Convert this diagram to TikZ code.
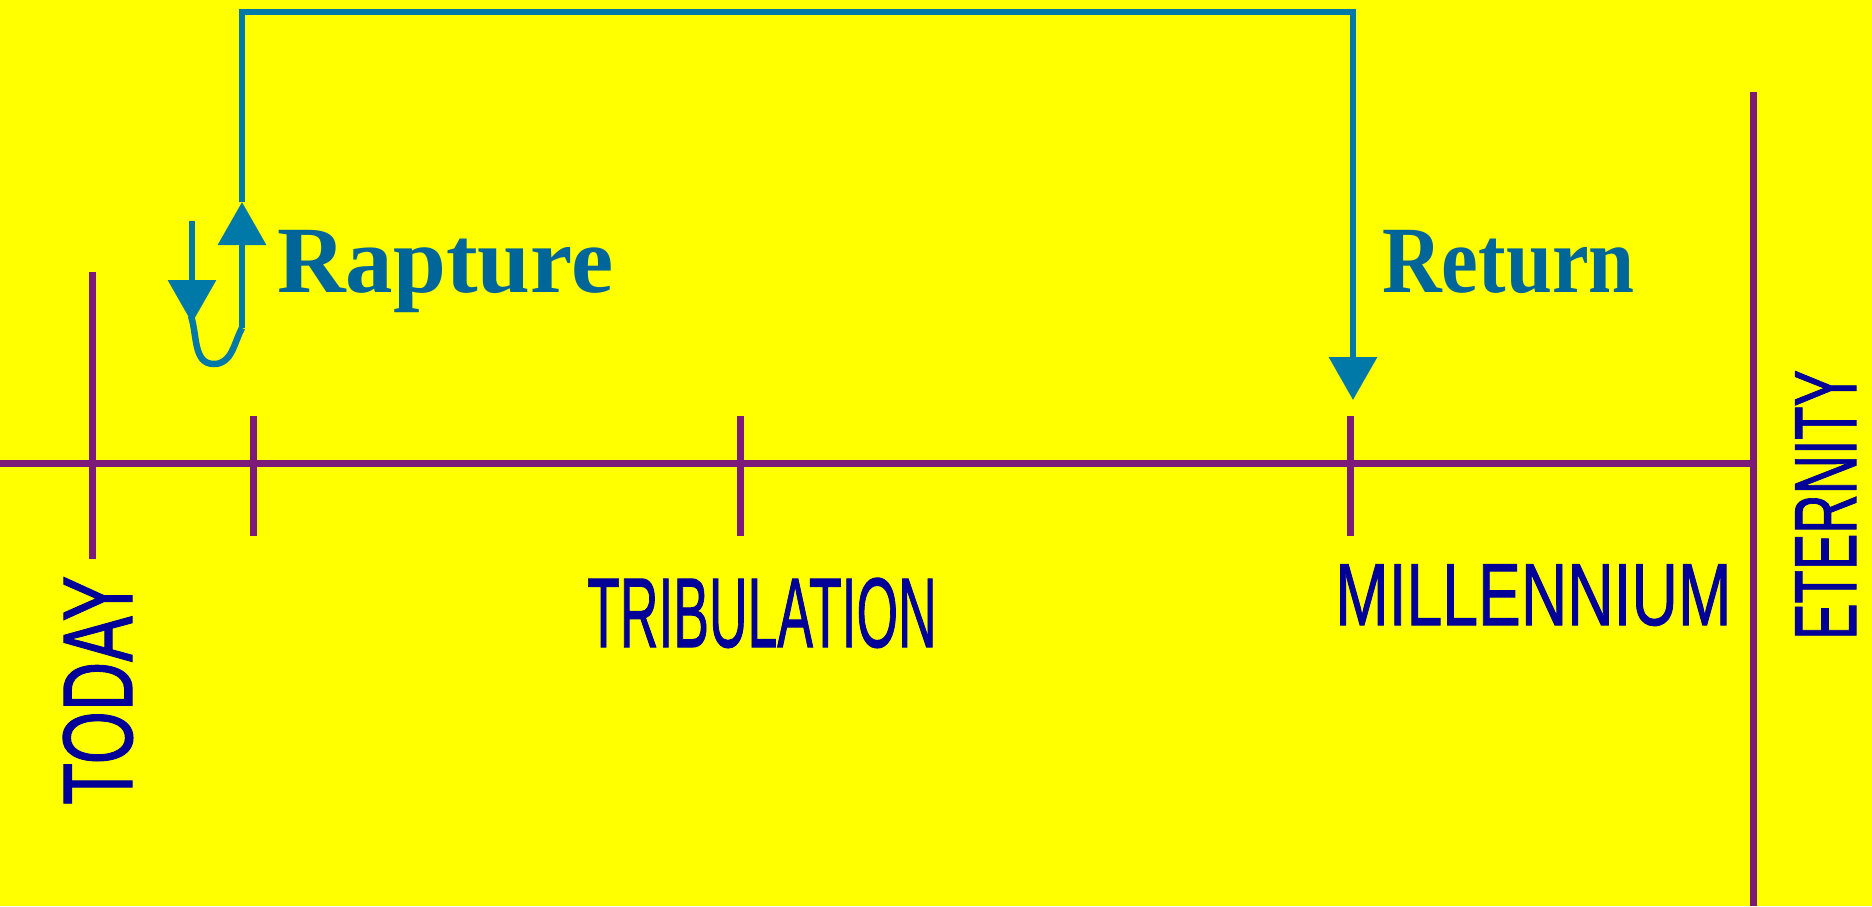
\documentclass[tikz,border=0pt]{standalone}
\usepackage{fontspec, graphicx}
\setmainfont{Liberation Serif}
\setsansfont{Liberation Sans}[FakeBold=1.2]
\usetikzlibrary{arrows.meta}
\definecolor{bgyellow}{HTML}{FFFF00}
\definecolor{timeline}{HTML}{7B1A78}
\definecolor{jumpblue}{HTML}{0079A9}
\definecolor{eventblue}{HTML}{006699}
\definecolor{eranavy}{HTML}{000099}

\begin{document}
\begin{tikzpicture}[x=1pt, y=-1pt,
  axis/.style={line width=7pt, timeline},
  jump/.style={line width=6.5pt, jumpblue},
  jumptip/.style={-{Triangle[length=43pt, width=47pt]}},
  event/.style={font=\fontsize{95}{95}\selectfont\bfseries, text=eventblue, inner sep=0pt, anchor=base west},
  era/.style={text=eranavy, inner sep=0pt, anchor=base west}]
% Draw background
\fill[bgyellow] (0,0) rectangle (1872,906);
\useasboundingbox (0,0) rectangle (1872,906);
% Draw time line
\coordinate (start) at (0,463.5);
\coordinate (end) at (1753,463.5);
\draw[axis] (start) -- (end);
\draw[axis] (92,272) -- (92,559);
\draw[axis] (1753,92) -- (1753,906);
% Draw tick marks
\foreach \x in {253,740,1350}
    \draw[axis] (\x,416) -- (\x,536);
% Draw rapture and return
\coordinate (leave) at (192,221);
\coordinate (dip) at (192,323);
\coordinate (rise) at (242,328);
\coordinate (up tip) at (242,202);
\coordinate (corner left) at (242,12);
\coordinate (corner right) at (1353,12);
\coordinate (down tip) at (1353,400);
\draw[jump, jumptip] (leave) -- (dip);
\draw[jump] (191,316) to[out=-72, in=180] (214,364) to[out=0, in=-118] (rise);
\draw[jump, jumptip] (rise) -- (up tip);
\draw[jump, jumptip] (up tip) -- (corner left) -- (corner right) -- (down tip);
% Draw labels
\node[event] (rapture) at (277,292) {Rapture};
\node[event] (return) at (1382,292) {\scalebox{0.87}[1]{Return}};
\node[era, font=\sffamily\fontsize{99}{99}\selectfont] (tribulation) at (587,647) {\scalebox{0.54}[1]{TRIBULATION}};
\node[era, font=\sffamily\fontsize{88}{88}\selectfont] (millennium) at (1335,625) {\scalebox{0.73}[1]{MILLENNIUM}};
\node[era, rotate=90, font=\sffamily\fontsize{99}{99}\selectfont] (today) at (132,805) {\scalebox{0.69}[1]{TODAY}};
\node[era, rotate=90, font=\sffamily\fontsize{88}{88}\selectfont] (eternity) at (1856,640) {\scalebox{0.62}[1]{ETERNITY}};
\end{tikzpicture}
\end{document}
